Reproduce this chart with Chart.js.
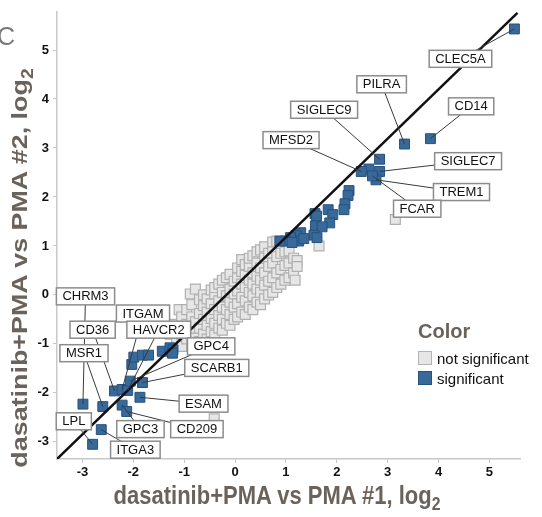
<!DOCTYPE html>
<html>
<head>
<meta charset="utf-8">
<script src="https://cdn.jsdelivr.net/npm/chart.js@4.4.0/dist/chart.umd.min.js"></script>
<style>
  body { margin: 0; background: #fff; font-family: "Liberation Sans", Arial, sans-serif; }
  #wrap { position: relative; width: 542px; height: 517px; overflow: hidden; }
  #plot { position: absolute; left: 0; top: 0; }
  .title { position: absolute; font-weight: bold; font-size: 25px; color: #6b635b; white-space: nowrap; line-height: 1; }
  .title sub { font-size: 0.72em; vertical-align: -0.35em; }
  #panel { position: absolute; left: -3px; top: 24px; font-size: 25px; color: #7a7a7a; line-height: 1; }
  #legend { position: absolute; left: 418px; top: 320px; color: #111; }
  #legend .head { font-weight: bold; font-size: 20px; color: #6b635b; line-height: 22px; margin-bottom: 6px; }
  #legend .item { display: flex; align-items: center; height: 20px; font-size: 15px; }
  #legend .sw { width: 14px; height: 14px; margin-right: 5px; box-sizing: border-box; border: 1px solid; }
</style>
</head>
<body>
<div id="wrap">
  <canvas id="plot" width="542" height="517"></canvas>
  <div id="panel">C</div>
  <div class="title" id="ytitle" style="left:22px; top:268px; transform: translate(-50%,-50%) rotate(-90deg) scale(1.075,0.9);">dasatinib+PMA vs PMA #2, log<sub>2</sub></div>
  <div class="title" id="xtitle" style="left:277px; top:498px; transform: translate(-50%,-50%) scaleX(0.88);">dasatinib+PMA vs PMA #1, log<sub>2</sub></div>
  <div id="legend">
    <div class="head">Color</div>
    <div class="item"><span class="sw" style="background:#e6e6e6; border-color:#b3b3b3"></span>not significant</div>
    <div class="item"><span class="sw" style="background:#37699b; border-color:#26527c"></span>significant</div>
  </div>
</div>
<script>
// tick values on both axes
const xTicks = [-3, -2, -1, 0, 1, 2, 3, 4, 5];
const yTicks = [-3, -2, -1, 0, 1, 2, 3, 4, 5];

// labelled significant genes (log2 ratio, replicate #1 vs #2)
const sigGenes = ['CLEC5A', 'PILRA', 'CD14', 'SIGLEC9', 'MFSD2', 'SIGLEC7', 'TREM1', 'FCAR',
                  'CHRM3', 'MSR1', 'LPL', 'ITGA3', 'CD36', 'ITGAM', 'HAVCR2', 'GPC4', 'SCARB1', 'ESAM', 'GPC3', 'CD209'];
const sigGeneX = [5.49, 3.33, 3.84, 2.84, 2.48, 2.84, 2.77, 2.70,
                  -2.99, -2.60, -2.80, -2.63, -2.37, -2.22, -2.11, -2.06, -1.82, -1.87, -2.22, -2.13];
const sigGeneY = [5.43, 3.08, 3.19, 2.77, 2.52, 2.52, 2.35, 2.43,
                  -2.23, -2.28, -3.05, -2.75, -1.96, -1.93, -1.95, -1.76, -1.79, -2.09, -2.25, -2.38];

// other significant genes, no label
const sigOther = [
  [2.63, 2.57], [2.24, 2.13], [2.22, 2.03], [2.16, 1.86], [2.14, 1.74], [1.83, 1.74], [1.92, 1.64],
  [1.86, 1.47], [1.57, 1.66], [1.60, 1.61], [1.58, 1.41], [1.71, 1.39], [1.55, 1.22], [1.61, 1.17],
  [1.29, 1.27], [1.20, 1.21], [1.25, 1.10], [1.09, 1.17], [0.99, 1.10], [0.88, 1.10], [1.12, 1.07],
  [1.35, 1.15], [-2.03, -1.42], [-1.99, -1.27], [-1.82, -1.23], [-1.70, -1.23], [-1.43, -1.15],
  [-1.28, -1.08], [-1.22, -1.12], [-1.23, -1.19]
];

// not significant genes
const notSig = [
  [-1.28, -0.80], [-1.20, -0.60], [-1.10, -0.30], [-0.88, 0.02], [-0.78, 0.12],
  [-1.15, -0.95], [-1.15, -0.70], [-1.05, -1.05], [-1.05, -0.45], [-1.05, -0.80], [-0.95, -0.90], [-0.95, -0.60],
  [-0.95, -0.30], [-0.85, -1.00], [-0.85, -0.75], [-0.85, -0.45], [-0.85, -0.20], [-0.78, -0.88], [-0.78, -0.55],
  [-0.70, -0.95], [-0.70, -0.68], [-0.70, -0.38], [-0.70, -0.10], [-0.62, -0.80], [-0.62, -0.50], [-0.62, -0.22],
  [-0.62, 0.00], [-0.55, -0.90], [-0.55, -0.62], [-0.55, -0.35], [-0.55, -0.08], [-0.47, -0.75], [-0.47, -0.48],
  [-0.47, -0.18], [-0.47, 0.10], [-0.40, -0.82], [-0.40, -0.58], [-0.40, -0.30], [-0.40, 0.02], [-0.40, 0.15],
  [-0.32, -0.68], [-0.32, -0.42], [-0.32, -0.12], [-0.32, 0.22], [-0.25, -0.72], [-0.25, -0.50], [-0.25, -0.25],
  [-0.25, 0.05], [-0.25, 0.30], [-0.17, -0.58], [-0.17, -0.30], [-0.17, -0.02], [-0.17, 0.35], [-0.10, -0.62],
  [-0.10, -0.40], [-0.10, -0.15], [-0.10, 0.12], [-0.10, 0.42], [-0.02, -0.50], [-0.02, -0.25], [-0.02, 0.02],
  [-0.02, 0.28], [0.05, -0.45], [0.05, -0.18], [0.05, 0.08], [0.05, 0.35], [0.05, 0.55], [0.13, -0.35],
  [0.13, -0.05], [0.13, 0.22], [0.13, 0.48], [0.13, 0.72], [0.20, -0.40], [0.20, -0.12], [0.20, 0.15],
  [0.20, 0.40], [0.20, 0.62], [0.28, -0.25], [0.28, 0.05], [0.28, 0.30], [0.28, 0.58], [0.28, 0.75],
  [0.35, -0.30], [0.35, -0.02], [0.35, 0.22], [0.35, 0.45], [0.35, 0.80], [0.43, -0.15], [0.43, 0.12],
  [0.43, 0.38], [0.43, 0.65], [0.43, 0.88], [0.50, -0.20], [0.50, 0.05], [0.50, 0.30], [0.50, 0.55],
  [0.50, 0.92], [0.58, -0.08], [0.58, 0.20], [0.58, 0.45], [0.58, 0.75], [0.58, 0.98], [0.66, 0.00],
  [0.66, 0.28], [0.66, 0.58], [0.66, 0.85], [0.74, 0.05], [0.74, 0.35], [0.74, 0.65], [0.74, 0.95],
  [0.74, 1.08], [0.82, 0.15], [0.82, 0.45], [0.82, 0.78], [0.82, 1.10], [0.90, 0.22], [0.90, 0.52],
  [0.90, 0.85], [0.90, 1.05], [0.98, 0.30], [0.98, 0.60], [0.98, 0.88], [1.06, 0.35], [1.06, 0.65],
  [1.06, 0.90], [1.15, 0.45], [1.15, 0.75], [1.22, 0.70], [1.22, 0.58], [1.18, 0.30],
  [1.65, 1.00], [3.15, 1.54], [-0.41, -2.53]
];

// fitted line end points
const fitX = [-3.5, 5.55];
const fitY = [-3.35, 5.76];

// where each gene label box sits (axis units)
const labelBoxX = [4.43, 2.88, 4.64, 1.75, 1.10, 4.58, 4.45, 3.58,
                   -2.94, -2.97, -3.17, -1.96, -2.80, -1.81, -1.50, -0.47, -0.36, -0.62, -1.86, -0.75];
const labelBoxY = [4.82, 4.30, 3.85, 3.78, 3.16, 2.73, 2.10, 1.76,
                   -0.03, -1.19, -2.58, -3.16, -0.71, -0.38, -0.71, -1.05, -1.49, -2.22, -2.74, -2.74];

const toXY = arr => arr.map(p => ({ x: p[0], y: p[1] }));

const geneLabels = {
  id: 'geneLabels',
  afterDatasetsDraw(chart) {
    const { ctx, scales: { x, y } } = chart;
    ctx.save();
    ctx.font = '13px "Liberation Sans", Arial, sans-serif';
    ctx.strokeStyle = '#3a3a3a';
    ctx.lineWidth = 1;
    sigGenes.forEach((g, i) => {
      ctx.beginPath();
      ctx.moveTo(x.getPixelForValue(sigGeneX[i]), y.getPixelForValue(sigGeneY[i]));
      ctx.lineTo(x.getPixelForValue(labelBoxX[i]), y.getPixelForValue(labelBoxY[i]));
      ctx.stroke();
    });
    sigGenes.forEach((g, i) => {
      const cx = x.getPixelForValue(labelBoxX[i]);
      const cy = y.getPixelForValue(labelBoxY[i]);
      const w = ctx.measureText(g).width + 12;
      const h = 17;
      ctx.fillStyle = '#fff';
      ctx.fillRect(cx - w / 2, cy - h / 2, w, h);
      ctx.strokeStyle = '#8c8c8c';
      ctx.lineWidth = 1.5;
      ctx.strokeRect(cx - w / 2, cy - h / 2, w, h);
      ctx.fillStyle = '#111';
      ctx.textAlign = 'center';
      ctx.textBaseline = 'middle';
      ctx.fillText(g, cx, cy + 0.5);
    });
    ctx.restore();
  }
};

new Chart(document.getElementById('plot'), {
  type: 'scatter',
  data: {
    datasets: [
      {
        type: 'line',
        data: fitX.map((v, i) => ({ x: v, y: fitY[i] })),
        borderColor: '#111',
        borderWidth: 2.5,
        pointRadius: 0,
        order: 0
      },
      {
        label: 'significant',
        data: toXY(sigOther).concat(sigGeneX.map((v, i) => ({ x: v, y: sigGeneY[i] }))),
        pointStyle: 'rect',
        pointRadius: 7,
        backgroundColor: '#37699b',
        borderColor: '#26527c',
        borderWidth: 1,
        order: 1
      },
      {
        label: 'not significant',
        data: toXY(notSig),
        pointStyle: 'rect',
        pointRadius: 7,
        backgroundColor: '#e6e6e6',
        borderColor: '#b0b0b0',
        borderWidth: 1.2,
        order: 2
      }
    ]
  },
  options: {
    responsive: false,
    animation: false,
    layout: { padding: { left: 31, right: 22, top: 7, bottom: 36 } },
    plugins: { legend: { display: false }, tooltip: { enabled: false } },
    scales: {
      x: {
        type: 'linear',
        min: -3.5,
        max: 5.6,
        afterBuildTicks: axis => { axis.ticks = xTicks.map(v => ({ value: v })); },
        afterFit: axis => { axis.height = 22; },
        ticks: { color: '#111', font: { size: 13, weight: 'bold', family: '"Liberation Sans", Arial' }, padding: 2 },
        grid: { drawOnChartArea: false, tickLength: 4, color: '#c8c8c8' },
        border: { color: '#c8c8c8', width: 1.5 }
      },
      y: {
        type: 'linear',
        min: -3.35,
        max: 5.78,
        afterBuildTicks: axis => { axis.ticks = yTicks.map(v => ({ value: v })); },
        afterFit: axis => { axis.width = 26; },
        ticks: { color: '#111', font: { size: 13, weight: 'bold', family: '"Liberation Sans", Arial' }, padding: 4 },
        grid: { drawOnChartArea: false, tickLength: 4, color: '#c8c8c8' },
        border: { color: '#c8c8c8', width: 1.5 }
      }
    }
  },
  plugins: [geneLabels]
});
</script>
</body>
</html>
